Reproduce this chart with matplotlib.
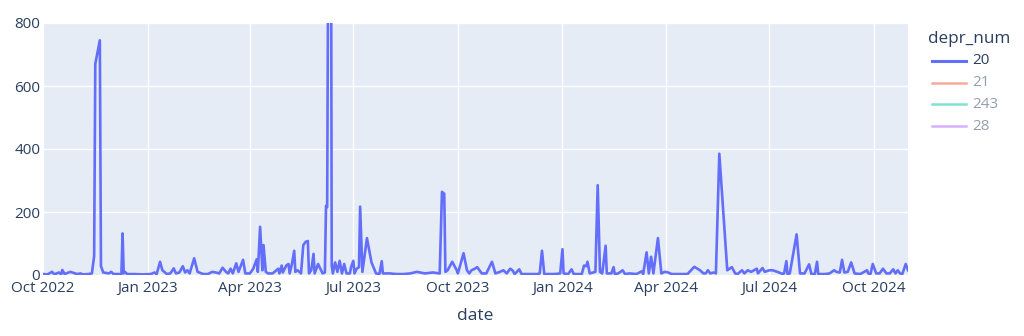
import matplotlib
matplotlib.use("Agg")
import matplotlib.pyplot as plt
import matplotlib.dates as mdates
from matplotlib.lines import Line2D
import pandas as pd

# ---- data ----
start_date = "2022-10-01"
day_offsets = [0, 4, 8, 10, 12, 14, 16, 17, 19, 24, 30, 33, 35, 40, 43, 45, 46, 50, 51, 53,
               58, 60, 62, 69, 70, 71, 72, 74, 80, 88, 95, 98, 100, 103, 105, 109, 112, 115, 117, 120,
               123, 125, 127, 129, 133, 136, 141, 145, 149, 152, 155, 158, 161, 163, 165, 167, 170, 172, 176, 178,
               182, 185, 188, 189, 191, 193, 194, 196, 198, 202, 207, 208, 210, 211, 214, 216, 217, 219, 221, 222,
               224, 227, 229, 231, 233, 234, 236, 238, 239, 242, 244, 246, 248, 249, 250, 252, 253, 254, 255, 257,
               259, 261, 263, 265, 267, 270, 271, 273, 274, 276, 278, 279, 281, 285, 289, 293, 296, 298, 299, 305,
               311, 317, 323, 329, 332, 336, 343, 349, 351, 353, 354, 356, 360, 364, 365, 370, 373, 375, 377, 380,
               382, 386, 390, 395, 398, 402, 405, 408, 411, 413, 415, 419, 421, 428, 435, 437, 439, 441, 450, 455,
               457, 458, 462, 465, 467, 474, 476, 478, 479, 481, 486, 488, 490, 492, 495, 496, 500, 502, 503, 506,
               510, 512, 516, 522, 527, 528, 531, 533, 535, 537, 541, 544, 547, 550, 553, 560, 567, 573, 578, 581,
               583, 585, 587, 590, 592, 595, 602, 606, 609, 611, 615, 617, 620, 623, 628, 629, 633, 635, 639, 642,
               646, 651, 652, 654, 655, 657, 663, 666, 670, 674, 676, 679, 681, 682, 688, 692, 696, 698, 701, 703,
               705, 708, 711, 714, 719, 725, 726, 728, 730, 733, 736, 739, 742, 745, 748, 750, 752, 754, 756, 759,
               761]
values_20 = [3, 2, 10, 2, 5, 8, 2, 16, 3, 10, 3, 5, 2, 3, 5, 60, 670, 745, 28, 8,
             5, 10, 3, 3, 132, 5, 10, 3, 3, 2, 3, 8, 3, 42, 15, 3, 5, 21, 5, 8,
             28, 8, 15, 5, 53, 10, 3, 3, 10, 8, 5, 23, 10, 5, 20, 5, 37, 10, 48, 5,
             5, 20, 50, 10, 153, 15, 95, 10, 5, 5, 20, 5, 30, 8, 30, 35, 5, 35, 77, 10,
             15, 5, 95, 105, 108, 5, 15, 67, 5, 35, 20, 5, 8, 220, 215, 2000, 2000, 30, 5, 40,
             10, 45, 5, 35, 5, 5, 25, 45, 5, 20, 25, 217, 10, 117, 40, 5, 3, 44, 5, 5,
             3, 3, 5, 10, 8, 5, 8, 5, 264, 258, 10, 15, 42, 15, 5, 69, 15, 5, 15, 20,
             25, 5, 5, 42, 5, 10, 15, 5, 20, 15, 3, 18, 3, 3, 3, 5, 77, 3, 3, 5,
             82, 5, 3, 18, 3, 3, 30, 28, 42, 5, 10, 285, 10, 5, 93, 5, 5, 25, 3, 5,
             15, 3, 5, 3, 12, 3, 72, 5, 58, 5, 117, 5, 10, 8, 3, 3, 3, 26, 15, 5,
             5, 15, 5, 8, 5, 385, 15, 25, 5, 3, 15, 5, 15, 10, 20, 5, 22, 10, 15, 15,
             10, 3, 5, 44, 3, 5, 129, 5, 5, 34, 3, 3, 42, 3, 3, 5, 15, 10, 8, 48,
             8, 10, 40, 5, 3, 15, 5, 3, 35, 5, 5, 20, 5, 5, 18, 5, 15, 5, 3, 35,
             15]
legend_title = "depr_num"
series_names = ["20", "21", "243", "28"]
series_colors = ["#636EFA", "#EF553B", "#00CC96", "#AB63FA"]
series_visible = [True, False, False, False]
y_ticks = [0, 200, 400, 600, 800]
x_label = "date"

dates = pd.Timestamp(start_date) + pd.to_timedelta(day_offsets, unit="D")

# ---- figure ----
W, H = 1024, 336
fig = plt.figure(figsize=(W / 100, H / 100), dpi=100)
plt.rcParams["font.family"] = ["Open Sans", "DejaVu Sans"]
L, R, T, B = 43, 908, 23, 275
ax = fig.add_axes([L / W, 1 - B / H, (R - L) / W, (B - T) / H])
ax.set_facecolor("#E5ECF6")
for s in ax.spines.values():
    s.set_visible(False)

ax.plot(dates, values_20, color=series_colors[0], lw=1.9, solid_joinstyle="round", zorder=3)

ax.set_xlim(dates[0], dates[-1])
ax.set_ylim(0, 800)
ax.set_yticks(y_ticks)
ax.xaxis.set_major_locator(mdates.MonthLocator(bymonth=[1, 4, 7, 10]))
ax.xaxis.set_major_formatter(mdates.DateFormatter("%b %Y"))
ax.grid(True, color="white", lw=1.0, zorder=0)
ax.set_axisbelow(True)
ax.tick_params(length=0, labelsize=11, colors="#2a3f5f")
ax.tick_params(axis="y", pad=2)
ax.tick_params(axis="x", pad=4)
ax.set_xlabel(x_label, fontsize=12.5, color="#2a3f5f", labelpad=9)

# ---- legend (plotly style) ----
fig.text(928 / W, 1 - 39 / H, legend_title, fontsize=12.3, color="#2a3f5f",
         ha="left", va="center")
row0, step = 61, 21.7
for i, (name, col, vis) in enumerate(zip(series_names, series_colors, series_visible)):
    yy = 1 - (row0 + i * step) / H
    fig.add_artist(Line2D([932 / W, 966 / W], [yy, yy], transform=fig.transFigure,
                          color=col, lw=2.2 if vis else 1.8, alpha=1.0 if vis else 0.5))
    fig.text(972 / W, yy, name, fontsize=11, color="#2a3f5f", alpha=1.0 if vis else 0.5,
             ha="left", va="center")

fig.savefig("out.png", dpi=100)
